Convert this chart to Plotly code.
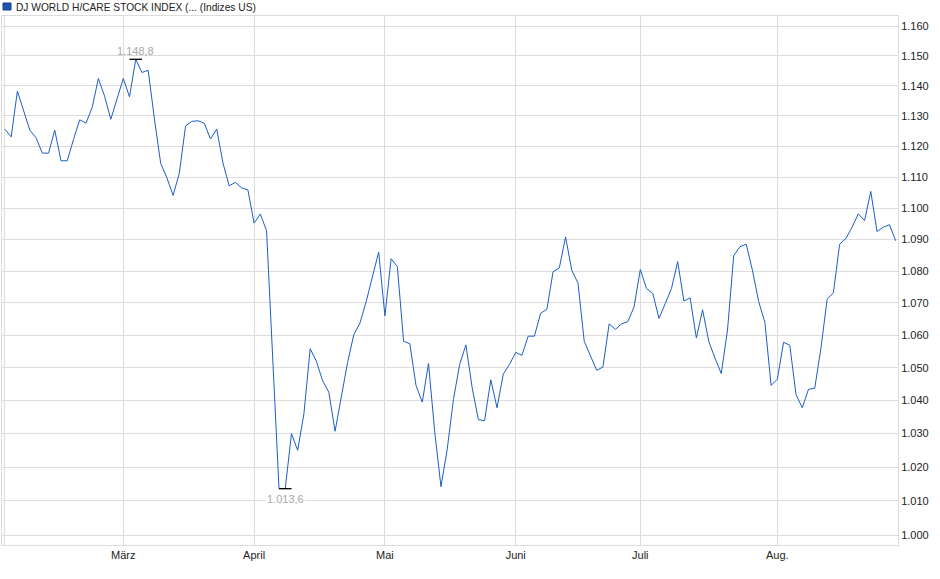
import math
import plotly.graph_objects as go

# Tagesschlusskurse (Handelstage Anfang Feb. bis Ende Aug.), Indexpunkte
kurse = [
    1125.6, 1123.1, 1138.2, 1132.0, 1125.3, 1122.8, 1117.8, 1117.8, 1125.3, 1115.3,
    1115.3, 1122.2, 1128.7, 1127.6, 1132.7, 1142.4, 1136.5, 1128.9, 1135.6, 1142.4,
    1136.3, 1148.8, 1144.4, 1145.1, 1129.0, 1114.5, 1109.8, 1104.1, 1111.3, 1126.7,
    1128.2, 1128.4, 1127.6, 1122.4, 1125.7, 1114.6, 1107.2, 1108.3, 1106.5, 1105.9,
    1095.2, 1098.1, 1092.8, 1050.0, 1013.7, 1013.6, 1030.0, 1025.0, 1036.0, 1055.8,
    1052.0, 1046.0, 1042.5, 1030.7, 1040.5, 1051.5, 1060.1, 1063.8, 1070.5, 1077.9,
    1086.0, 1066.0, 1083.9, 1081.4, 1058.1, 1057.4, 1044.5, 1039.5, 1051.3, 1030.5,
    1014.2, 1025.3, 1040.3, 1051.0, 1057.0, 1044.0, 1034.2, 1033.9, 1046.3, 1037.8,
    1048.0, 1051.0, 1054.7, 1053.8, 1059.7, 1059.7, 1066.8, 1068.0, 1079.8, 1081.0,
    1090.8, 1080.3, 1076.2, 1058.1, 1053.5, 1049.2, 1050.2, 1063.5, 1061.8, 1063.5,
    1064.2, 1068.8, 1080.5, 1074.5, 1073.0, 1065.2, 1069.8, 1074.5, 1083.0, 1070.6,
    1071.6, 1059.1, 1067.9, 1058.0, 1052.9, 1048.2, 1061.6, 1084.9, 1087.7, 1088.5,
    1080.3, 1070.5, 1064.0, 1044.6, 1046.5, 1057.8, 1056.9, 1041.8, 1037.8, 1043.4,
    1043.7, 1056.0, 1071.2, 1073.2, 1088.5, 1090.3, 1093.9, 1098.2, 1096.0, 1105.4,
    1092.5, 1093.9, 1094.7, 1089.6,
]

# erster Handelstag je Monat (Position in der Kursreihe) + Beschriftung
monat_pos = [0, 19, 40, 61, 82, 102, 124]
monat_txt = ["", "März", "April", "Mai", "Juni", "Juli", "Aug."]

y_ticks = [1000, 1010, 1020, 1030, 1040, 1050, 1060, 1070, 1080,
           1090, 1100, 1110, 1120, 1130, 1140, 1150, 1160]

titel = "DJ WORLD H/CARE STOCK INDEX (... (Indizes US)"

FONT = "Liberation Sans, Arial, sans-serif"
GRID = "#dcdcdc"


def de_zahl(v):
    # 1148.8 -> "1.148,8"
    return f"{v:,.1f}".replace(",", "X").replace(".", ",").replace("X", ".")


tage = list(range(len(kurse)))
i_max = max(tage, key=lambda i: kurse[i])
i_min = min(tage, key=lambda i: kurse[i])

fig = go.Figure()
fig.add_trace(go.Scatter(
    x=tage, y=kurse, mode="lines",
    line=dict(color="#1c5ec8", width=1),
    hoverinfo="skip", showlegend=False,
))
# kleine Striche an Hoch/Tief
fig.add_trace(go.Scatter(
    x=[i_max, i_min], y=[kurse[i_max], kurse[i_min]], mode="markers",
    marker=dict(symbol="line-ew", size=9, line=dict(color="black", width=1.3)),
    hoverinfo="skip", showlegend=False,
))

fig.add_annotation(x=i_max, y=math.log10(kurse[i_max]), text=de_zahl(kurse[i_max]),
                   showarrow=False, yanchor="bottom", yshift=0,
                   font=dict(family=FONT, size=11, color="#a8a8a8"))
fig.add_annotation(x=i_min, y=math.log10(kurse[i_min]), text=de_zahl(kurse[i_min]),
                   showarrow=False, yanchor="top", yshift=-2, bgcolor="white",
                   font=dict(family=FONT, size=11, color="#a8a8a8"))

# Legende oben links (Kästchen + Text)
fig.add_shape(type="rect", xref="paper", yref="paper",
              xsizemode="pixel", ysizemode="pixel", xanchor=0, yanchor=1,
              x0=1, x1=9, y0=6, y1=13,
              fillcolor="#1c55b8", line=dict(color="#163f80", width=1))
fig.add_annotation(xref="paper", yref="paper", x=0, y=1, xshift=12, yshift=9,
                   xanchor="left", yanchor="middle", showarrow=False, text=titel,
                   font=dict(family=FONT, size=10.2, color="#222222"))

fig.update_layout(
    width=940, height=579,
    margin=dict(l=2, r=42, t=16, b=34, autoexpand=False),
    paper_bgcolor="white", plot_bgcolor="white",
    font=dict(family=FONT, size=11, color="#222222"),
    xaxis=dict(
        range=[-0.47, 143.37], automargin=False,
        tickmode="array", tickvals=monat_pos, ticktext=monat_txt,
        showgrid=True, gridcolor=GRID, gridwidth=1,
        showline=True, mirror=True, linecolor=GRID,
        zeroline=False, ticks="",
    ),
    yaxis=dict(
        type="log", side="right", automargin=False,
        range=[math.log10(997.09), math.log10(1163.4)],
        tickmode="array", tickvals=y_ticks,
        ticktext=[f"{v / 1000:.3f}" for v in y_ticks],
        showgrid=True, gridcolor=GRID, gridwidth=1,
        showline=True, mirror=True, linecolor=GRID,
        zeroline=False, ticks="",
    ),
)

# Standard-Rand des Browsers (8px) entfernen, damit die Grafik bündig sitzt
fig.write_html("out.html", config={"displayModeBar": False},
               post_script="document.body.style.margin='0';")
